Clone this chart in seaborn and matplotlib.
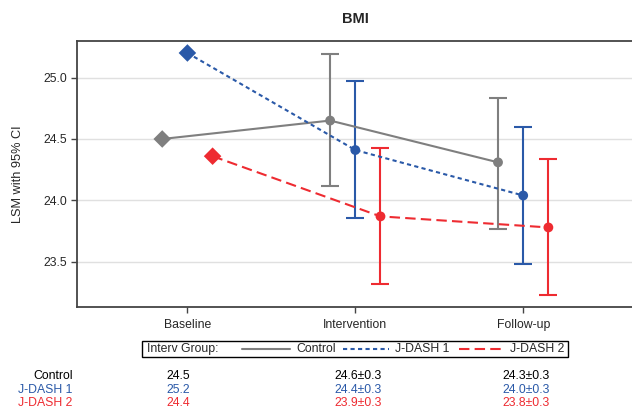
import numpy as np
import pandas as pd
import matplotlib
matplotlib.use("Agg")
import matplotlib.pyplot as plt
import seaborn as sns
from matplotlib.lines import Line2D
from matplotlib.patches import Rectangle

# ---- data ----
times = ["Baseline", "Intervention", "Follow-up"]
groups = ["Control", "J-DASH 1", "J-DASH 2"]
control_lsm = [24.50, 24.65, 24.31]
jdash1_lsm = [25.20, 24.41, 24.04]
jdash2_lsm = [24.36, 23.87, 23.78]
control_lo = [np.nan, 24.12, 23.77]
control_hi = [np.nan, 25.19, 24.83]
jdash1_lo = [np.nan, 23.86, 23.48]
jdash1_hi = [np.nan, 24.97, 24.60]
jdash2_lo = [np.nan, 23.32, 23.23]
jdash2_hi = [np.nan, 24.43, 24.34]
control_txt = ["24.5", "24.6\u00b10.3", "24.3\u00b10.3"]
jdash1_txt = ["25.2", "24.4\u00b10.3", "24.0\u00b10.3"]
jdash2_txt = ["24.4", "23.9\u00b10.3", "23.8\u00b10.3"]
yticks = [23.5, 24.0, 24.5, 25.0]

colors = {"Control": "#7f7f7f", "J-DASH 1": "#2a59a8", "J-DASH 2": "#ee2b31"}
offsets = {"Control": -0.15, "J-DASH 1": 0.0, "J-DASH 2": 0.15}
dashes = {"Control": "", "J-DASH 1": (2, 1.6), "J-DASH 2": (5, 2.5)}

lsm = {"Control": control_lsm, "J-DASH 1": jdash1_lsm, "J-DASH 2": jdash2_lsm}
lo = {"Control": control_lo, "J-DASH 1": jdash1_lo, "J-DASH 2": jdash2_lo}
hi = {"Control": control_hi, "J-DASH 1": jdash1_hi, "J-DASH 2": jdash2_hi}
txt = {"Control": control_txt, "J-DASH 1": jdash1_txt, "J-DASH 2": jdash2_txt}

rows = []
for g in groups:
    for i, t in enumerate(times):
        rows.append({"group": g, "time": t, "x": i + offsets[g], "lsm": lsm[g][i],
                     "lo": lo[g][i], "hi": hi[g][i],
                     "marker": "base" if i == 0 else "post"})
df = pd.DataFrame(rows)

sns.set_theme(style="white")
FONT = ["Liberation Sans Narrow", "Liberation Sans", "DejaVu Sans"]
plt.rcParams["font.family"] = FONT

W, H = 632, 409
FS = 8.8
fig = plt.figure(figsize=(W / 100, H / 100), dpi=100)
ax = fig.add_axes([76.6 / W, 1 - 307.3 / H, 557.4 / W, (307.3 - 40.7) / H])

# gridlines
for yv in yticks:
    ax.axhline(yv, color="#e0e0e0", lw=1.0, zorder=0)

# error bars
for g in groups:
    sub = df[(df.group == g) & df.lo.notna()]
    ax.errorbar(sub.x, sub.lsm, yerr=[sub.lsm - sub.lo, sub.hi - sub.lsm],
                fmt="none", ecolor=colors[g], elinewidth=1.5, capsize=6.5,
                capthick=1.5, zorder=2)

# lines
sns.lineplot(data=df, x="x", y="lsm", hue="group", style="group",
             palette=colors, dashes=dashes, linewidth=1.5, legend=False,
             sort=False, estimator=None, ax=ax, zorder=3)

# markers
sns.scatterplot(data=df, x="x", y="lsm", hue="group", style="marker",
                markers={"base": "D", "post": "o"}, palette=colors,
                size="marker", sizes={"base": 80, "post": 50},
                linewidth=0, legend=False, ax=ax, zorder=4)

ax.set_xlim(-0.66, 2.66)
ax.set_ylim(23.13, 25.30)
ax.set_xticks(range(len(times)))
ax.set_xticklabels(times)
ax.set_yticks(yticks)
ax.set_yticklabels([f"{v:.1f}" for v in yticks])
ax.set_xlabel("")
ax.set_ylabel("LSM with 95% CI", fontsize=9.2, labelpad=14)
ax.tick_params(axis="both", labelsize=FS, length=4, width=1, direction="out",
               color="#444444", pad=3, left=True, bottom=True)
ax.tick_params(axis="x", pad=4.5)
for side in ["left", "top", "bottom"]:
    ax.spines[side].set_visible(True)
    ax.spines[side].set_color("#444444")
    ax.spines[side].set_linewidth(1.3)
ax.spines["right"].set_visible(False)
ax.set_title("BMI", fontsize=10.5, fontweight="bold", pad=13)

# legend (manual, figure pixel coordinates)
def fx(px):
    return px / W

def fy(py):
    return 1 - py / H

fig.patches.append(Rectangle((fx(142), fy(356.5)), fx(568) - fx(142), fy(341) - fy(356.5),
                             transform=fig.transFigure, fill=False, ec="black", lw=1.0))
ly = 349
fig.text(fx(147), fy(ly), "Interv Group:", fontsize=FS, va="center", ha="left")
leg_items = [("Control", 242, 290, 296), ("J-DASH 1", 343, 389, 395), ("J-DASH 2", 459, 504, 510)]
for g, x0, x1, xt in leg_items:
    ln = Line2D([fx(x0), fx(x1)], [fy(ly), fy(ly)], transform=fig.transFigure,
                color=colors[g], lw=1.5)
    if dashes[g]:
        ln.set_dashes(dashes[g])
    fig.lines.append(ln)
    fig.text(fx(xt), fy(ly), g, fontsize=FS, va="center", ha="left")

# table below
row_y = {"Control": 376, "J-DASH 1": 390, "J-DASH 2": 403}
text_col = {"Control": "black", "J-DASH 1": colors["J-DASH 1"], "J-DASH 2": colors["J-DASH 2"]}
trans = matplotlib.transforms.blended_transform_factory(ax.transData, fig.transFigure)
for g in groups:
    fig.text(fx(72.5), fy(row_y[g]), g, fontsize=FS, va="center", ha="right",
             color=text_col[g])
    for i in range(len(times)):
        ax.text(i - 0.125, fy(row_y[g]), txt[g][i], transform=trans, fontsize=FS,
                va="center", ha="left", color=text_col[g], clip_on=False)

fig.savefig("out.png", dpi=100)
